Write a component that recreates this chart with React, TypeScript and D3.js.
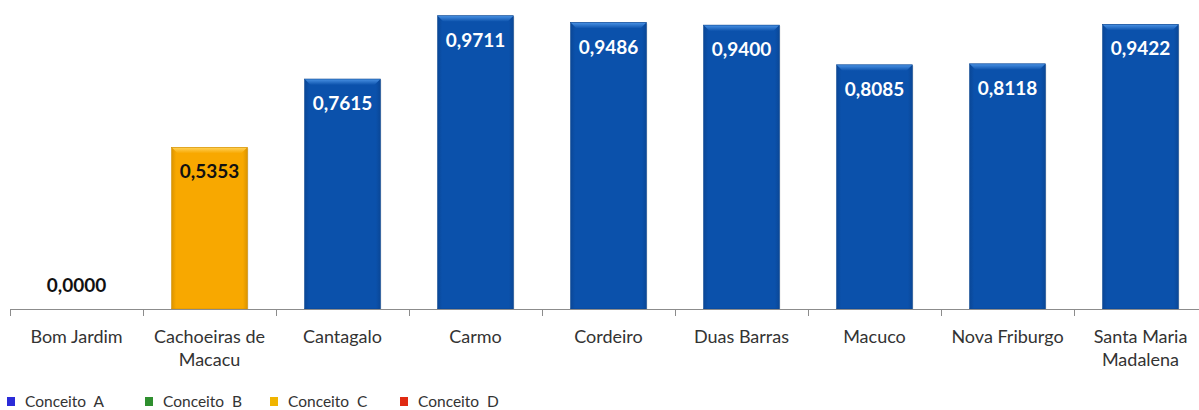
import React from "react";
import * as d3 from "d3";

const categories: string[][] = [
  ["Bom Jardim"],
  ["Cachoeiras de", "Macacu"],
  ["Cantagalo"],
  ["Carmo"],
  ["Cordeiro"],
  ["Duas Barras"],
  ["Macuco"],
  ["Nova Friburgo"],
  ["Santa Maria", "Madalena"],
];
const values: number[] = [0.0, 0.5353, 0.7615, 0.9711, 0.9486, 0.94, 0.8085, 0.8118, 0.9422];
const concepts: string[] = ["A", "C", "A", "A", "A", "A", "A", "A", "A"];
const legendLabels: string[] = ["Conceito  A", "Conceito  B", "Conceito  C", "Conceito  D"];
const legendKeys: string[] = ["A", "B", "C", "D"];

const fillColors: Record<string, string> = { A: "#0b51ab", B: "#2e8b2e", C: "#f8a800", D: "#e0301e" };
const lightColors: Record<string, string> = { A: "#4a92e4", B: "#5cc05c", C: "#ffd35c", D: "#ff6a50" };
const legendColors: Record<string, string> = { A: "#2b2bd8", B: "#2f8f2f", C: "#f0b400", D: "#e02a12" };

const W = 1199;
const H = 410;
const FONT = "Lato, 'Open Sans', sans-serif";

export default function App() {
  const x = d3
    .scaleBand<number>()
    .domain(d3.range(categories.length))
    .range([10, 10 + 133 * categories.length])
    .paddingInner(0.43)
    .paddingOuter(0.215);
  const y = d3.scaleLinear().domain([0, 1]).range([309, 7]);
  const fmt = (v: number) => v.toFixed(4).replace(".", ",");
  const step = x.step();
  const bw = x.bandwidth();

  return (
    <svg width={W} height={H} style={{ position: "absolute", left: 0, top: 0 }}>
      <defs>
        {legendKeys.map((k) => (
          <linearGradient key={k} id={`g${k}`} x1="0" x2="1" y1="0" y2="0">
            <stop offset="0" stopColor={d3.color(fillColors[k])!.darker(0.35).toString()} />
            <stop offset="0.06" stopColor={fillColors[k]} />
            <stop offset="0.94" stopColor={fillColors[k]} />
            <stop offset="1" stopColor={d3.color(fillColors[k])!.darker(0.35).toString()} />
          </linearGradient>
        ))}
        {legendKeys.map((k) => (
          <linearGradient key={k} id={`t${k}`} x1="0" x2="0" y1="0" y2="1">
            <stop offset="0" stopColor={lightColors[k]} />
            <stop offset="1" stopColor={fillColors[k]} />
          </linearGradient>
        ))}
      </defs>
      <rect width={W} height={H} fill="#fff" />
      {values.map((v, i) => {
        if (v <= 0) return null;
        const x0 = x(i)!;
        const yt = y(v);
        const yb = y(0);
        const k = concepts[i];
        const bev = 6;
        return (
          <g key={i}>
            <rect x={x0 + 1} y={yt + 1} width={bw} height={yb - yt} fill="#000" opacity={0.12} />
            <rect x={x0} y={yt} width={bw} height={yb - yt} fill={`url(#g${k})`} />
            <polygon
              points={`${x0},${yt} ${x0 + bw},${yt} ${x0 + bw - bev},${yt + bev} ${x0 + bev},${yt + bev}`}
              fill={`url(#t${k})`}
            />
            <rect x={x0} y={yt} width={bw} height={yb - yt} fill="none" stroke={d3.color(fillColors[k])!.darker(0.5).toString()} strokeWidth={0.6} />
          </g>
        );
      })}
      {values.map((v, i) => {
        const cx = x(i)! + bw / 2;
        const k = concepts[i];
        const inside = v > 0.1;
        return (
          <text
            key={i}
            x={cx}
            y={inside ? y(v) + 31 : y(0) - 17}
            textAnchor="middle"
            fontFamily={FONT}
            fontWeight="bold"
            fontSize={19}
            fill={inside && k === "A" ? "#ffffff" : "#111"}
          >
            {fmt(v)}
          </text>
        );
      })}
      <line x1={10} x2={W} y1={309.5} y2={309.5} stroke="#8c8c8c" strokeWidth={1} />
      {d3.range(categories.length + 1).map((i) => (
        <line key={i} x1={10 + i * step + 0.5} x2={10 + i * step + 0.5} y1={309.5} y2={316} stroke="#8c8c8c" />
      ))}
      {categories.map((lines, i) => (
        <text key={i} textAnchor="middle" fontFamily={FONT} fontSize={18} fill="#333">
          {lines.map((l, j) => (
            <tspan key={j} x={x(i)! + bw / 2} y={343 + j * 23}>
              {l}
            </tspan>
          ))}
        </text>
      ))}
      {legendLabels.map((l, i) => {
        const lx = [7, 145, 270, 400][i];
        return (
          <g key={i}>
            <rect x={lx} y={397} width={8} height={9} fill={legendColors[legendKeys[i]]} />
            <text x={lx + 18} y={407} fontFamily={FONT} fontSize={15.5} fill="#333" style={{ whiteSpace: "pre" }}>
              {l}
            </text>
          </g>
        );
      })}
    </svg>
  );
}
